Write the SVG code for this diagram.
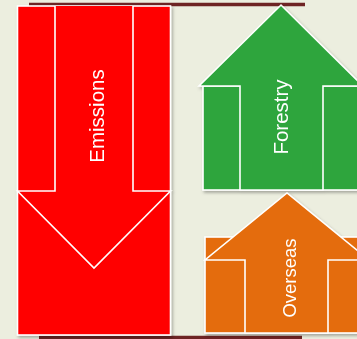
<svg xmlns="http://www.w3.org/2000/svg" width="357" height="339" viewBox="0 0 357 339">
<defs>
<filter id="sh" x="-10%" y="-10%" width="130%" height="130%">
<feDropShadow dx="1.5" dy="2" stdDeviation="1.5" flood-color="#000" flood-opacity="0.3"/>
</filter>
</defs>
<style>
.w{stroke:#fff;stroke-width:1.6;stroke-linejoin:miter}
.red{fill:#ff0000}
.grn{fill:#2ea53e}
.org{fill:#e46c0a}
.lbl{font-family:"Liberation Sans",Arial,sans-serif;fill:#fff;text-anchor:middle}
.bar{stroke:#6e2424;stroke-width:3.5;fill:none}
</style>
<rect width="357" height="339" fill="#eceedf"/>
<g id="connectors">
<line class="bar" x1="29" y1="4.5" x2="305" y2="4.5"/>
<line class="bar" x1="39" y1="337.5" x2="302" y2="337.5"/>
</g>
<g id="emissions" filter="url(#sh)">
<rect class="red w" x="17.5" y="6" width="153" height="329"/>
<path class="red w" d="M55,6 V191 H17.5 L94,268 L170.5,191 H133 V6"/>
<text class="lbl" font-size="20.5" transform="translate(103.5,116) rotate(-90)">Emissions</text>
</g>
<g id="forestry" filter="url(#sh)">
<rect class="grn w" x="203" y="86" width="160" height="104"/>
<path class="grn w" d="M240,190 V86 H199 L281,5 L363,86 H323 V190 Z"/>
<text class="lbl" font-size="20.5" transform="translate(288,117) rotate(-90)">Forestry</text>
</g>
<g id="overseas" filter="url(#sh)">
<rect class="org w" x="205" y="237" width="160" height="96"/>
<path class="org w" d="M245,333 V260 H205 L287,193 L369,260 H328 V333 Z"/>
<text class="lbl" font-size="18.5" transform="translate(295.5,278) rotate(-90)">Overseas</text>
</g>
</svg>
